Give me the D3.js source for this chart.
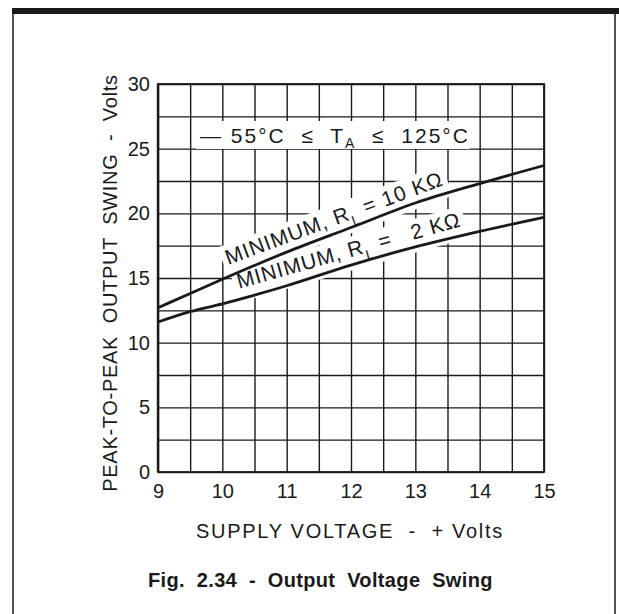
<!DOCTYPE html>
<html>
<head>
<meta charset="utf-8">
<script src="https://cdn.jsdelivr.net/npm/d3@7"></script>
<style>
  html, body { margin: 0; padding: 0; background: #fff; }
  svg { display: block; }
  text { font-family: "Liberation Sans", Arial, Helvetica, sans-serif; fill: #1a1a1a; white-space: pre; }
</style>
</head>
<body>
<svg id="chart" width="619" height="614"></svg>
<script>
// Supply voltage (V) sample points
const supplyVolts = [9, 9.5, 10, 11, 12, 13, 14, 15];
// Minimum peak-to-peak output swing (V), RL = 10 kOhm
const swing10k = [12.7, 13.8, 14.9, 17.0, 18.9, 20.8, 22.3, 23.7];
// Minimum peak-to-peak output swing (V), RL = 2 kOhm
const swing2k = [11.6, 12.4, 13.0, 14.4, 16.0, 17.4, 18.6, 19.7];
// Axis tick labels
const xTickLabels = [9, 10, 11, 12, 13, 14, 15];
const yTickLabels = [0, 5, 10, 15, 20, 25, 30];
// Grid divisions
const xGridStep = 0.5;
const yGridStep = 2.5;

const ink = "#1a1a1a";
const svg = d3.select("#chart");

const x = d3.scaleLinear().domain([9, 15]).range([158, 544]);
const y = d3.scaleLinear().domain([0, 30]).range([472, 84]);

// Outer frame: heavy top rule and thin side rules
svg.append("rect").attr("x", 12).attr("y", 8).attr("width", 607).attr("height", 6).attr("fill", ink);
svg.append("line").attr("x1", 13).attr("x2", 13).attr("y1", 8).attr("y2", 614)
  .attr("stroke", ink).attr("stroke-width", 1.5);
svg.append("line").attr("x1", 615).attr("x2", 615).attr("y1", 8).attr("y2", 614)
  .attr("stroke", ink).attr("stroke-width", 1.5);

// Grid
const xGrid = d3.range(9, 15 + 1e-9, xGridStep);
const yGrid = d3.range(0, 30 + 1e-9, yGridStep);
const grid = svg.append("g");
grid.append("g")
  .attr("transform", `translate(0,${y(0)})`)
  .call(d3.axisBottom(x).tickValues(xGrid).tickSize(-(y(0) - y(30))).tickFormat(""))
  .call(g => g.select(".domain").remove())
  .call(g => g.selectAll("line").attr("stroke", ink).attr("stroke-width", 1.4));
grid.append("g")
  .attr("transform", `translate(${x(9)},0)`)
  .call(d3.axisLeft(y).tickValues(yGrid).tickSize(-(x(15) - x(9))).tickFormat(""))
  .call(g => g.select(".domain").remove())
  .call(g => g.selectAll("line").attr("stroke", ink).attr("stroke-width", 1.4));
grid.append("rect")
  .attr("x", x(9)).attr("y", y(30)).attr("width", x(15) - x(9)).attr("height", y(0) - y(30))
  .attr("fill", "none").attr("stroke", ink).attr("stroke-width", 1.8);
grid.append("line").attr("x1", x(9)).attr("x2", x(9)).attr("y1", y(30)).attr("y2", y(0))
  .attr("stroke", ink).attr("stroke-width", 2.4);

// Tick labels
svg.append("g")
  .attr("transform", `translate(0,${y(0)})`)
  .call(d3.axisBottom(x).tickValues(xTickLabels).tickSize(0).tickPadding(12).tickFormat(d3.format("d")))
  .call(g => g.select(".domain").remove())
  .call(g => g.selectAll("text").attr("font-size", 20).attr("fill", ink)
    .style("font-family", "'Liberation Sans', Arial, sans-serif"));
svg.append("g")
  .attr("transform", `translate(${x(9)},0)`)
  .call(d3.axisLeft(y).tickValues(yTickLabels).tickSize(0).tickPadding(8).tickFormat(d3.format("d")))
  .call(g => g.select(".domain").remove())
  .call(g => g.selectAll("text").attr("font-size", 20).attr("fill", ink)
    .style("font-family", "'Liberation Sans', Arial, sans-serif"));

// Axis titles and figure caption
svg.append("text")
  .attr("x", 350).attr("y", 538).attr("text-anchor", "middle")
  .attr("font-size", 20).attr("letter-spacing", 1.7)
  .text("SUPPLY VOLTAGE  -  + Volts");
svg.append("text")
  .attr("transform", `translate(117,${283}) rotate(-90)`)
  .attr("text-anchor", "middle")
  .attr("font-size", 20).attr("letter-spacing", 0.7)
  .text("PEAK-TO-PEAK  OUTPUT  SWING  -  Volts");
svg.append("text")
  .attr("x", 148).attr("y", 587)
  .attr("font-size", 20).attr("font-weight", "bold").attr("letter-spacing", 0.35)
  .text("Fig.  2.34  -  Output  Voltage  Swing");

// Temperature range note, on a white patch over the grid
svg.append("rect").attr("x", 196).attr("y", 121).attr("width", 274).attr("height", 28).attr("fill", "#fff");
const note = svg.append("text").attr("x", 200).attr("y", 143).attr("font-size", 21).attr("letter-spacing", 2);
note.append("tspan").text("\u2014 55\u00b0C  \u2264  T");
note.append("tspan").attr("font-size", 14).attr("dy", 5).text("A");
note.append("tspan").attr("dy", -5).text("  \u2264  125\u00b0C");

// Curves
const pts10k = supplyVolts.map((v, i) => [v, swing10k[i]]);
const pts2k = supplyVolts.map((v, i) => [v, swing2k[i]]);
const lineGen = d3.line().x(d => x(d[0])).y(d => y(d[1])).curve(d3.curveMonotoneX);

// Rotated curve labels sitting just above each curve
function interp(pts, v) {
  const i = Math.max(1, d3.bisector(d => d[0]).left(pts, v));
  const a = pts[i - 1], b = pts[i];
  const t = (v - a[0]) / (b[0] - a[0]);
  return a[1] + t * (b[1] - a[1]);
}
const labelLayer = svg.append("g");
function curveLabel(pts, startV, endV, offset, parts) {
  const x0 = x(startV), y0 = y(interp(pts, startV));
  const x1 = x(endV), y1 = y(interp(pts, endV));
  const ang = Math.atan2(y1 - y0, x1 - x0);
  const deg = ang * 180 / Math.PI;
  // shift perpendicular to the curve, toward the top of the plot
  const px = x0 + offset * Math.sin(ang);
  const py = y0 - offset * Math.cos(ang);
  const g = labelLayer.append("g").attr("transform", `translate(${px},${py}) rotate(${deg})`);
  const bg = g.append("rect").attr("fill", "#fff");
  const t = g.append("text").attr("font-size", 21).attr("letter-spacing", 1);
  parts.forEach(p => {
    const s = t.append("tspan").text(p.text);
    if (p.sub) s.attr("font-size", 14).attr("dy", 7);
    if (p.after) s.attr("dy", -7);
  });
  const bb = t.node().getBBox();
  bg.attr("x", bb.x - 4).attr("y", bb.y - 1).attr("width", bb.width + 8).attr("height", bb.height + 4);
}
curveLabel(pts10k, 10.15, 14.0, 11, [
  { text: "MINIMUM, R" }, { text: "L", sub: true }, { text: " = 10 K\u03a9", after: true }
]);
curveLabel(pts2k, 10.3, 14.0, 10, [
  { text: "MINIMUM, R" }, { text: "L", sub: true }, { text: " =   2 K\u03a9", after: true }
]);

svg.append("path").datum(pts10k).attr("d", lineGen)
  .attr("fill", "none").attr("stroke", ink).attr("stroke-width", 2.8);
svg.append("path").datum(pts2k).attr("d", lineGen)
  .attr("fill", "none").attr("stroke", ink).attr("stroke-width", 2.8);
labelLayer.raise();
svg.selectAll("path").raise();
</script>
</body>
</html>
